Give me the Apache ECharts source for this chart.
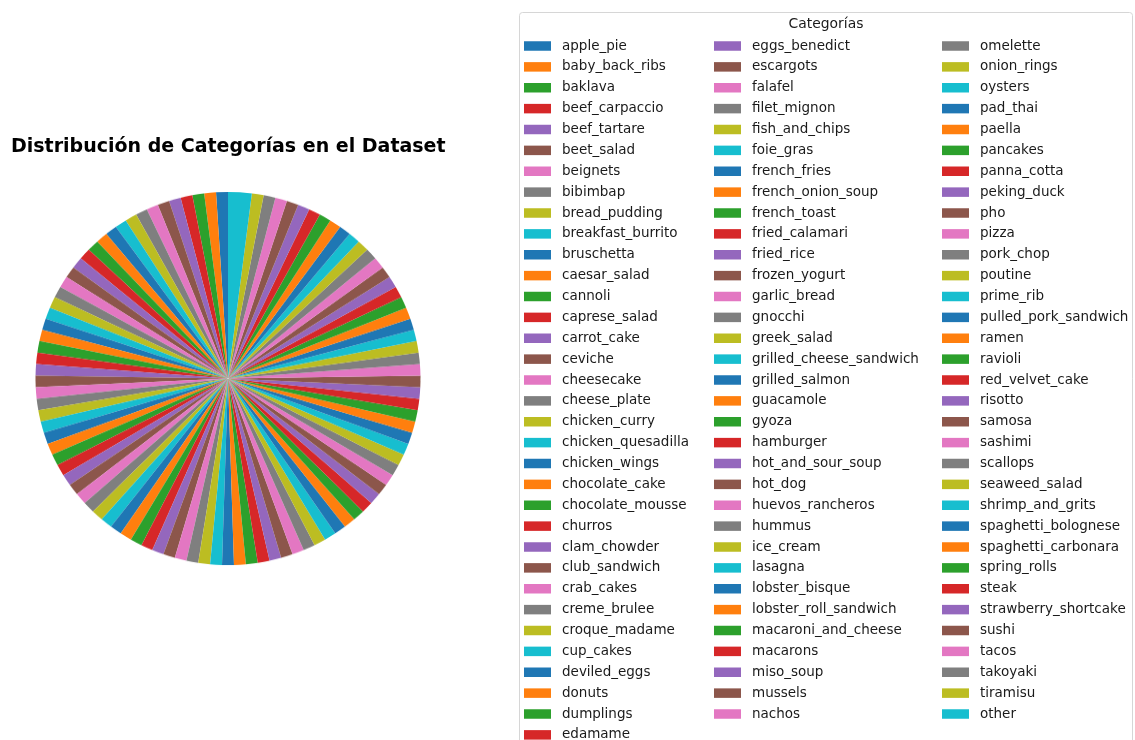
<!DOCTYPE html>
<html>
<head>
<meta charset="utf-8">
<title>Distribución de Categorías en el Dataset</title>
<script src="https://cdn.jsdelivr.net/npm/echarts@6/dist/echarts.min.js"></script>
<style>
  html, body { margin: 0; padding: 0; background: #ffffff; }
  #wrap { position: relative; width: 1135px; height: 740px; overflow: hidden; }
  #chart, #pie { position: absolute; left: 0; top: 0; width: 1135px; height: 740px; }
  /* the pie sits in its own layer, slightly flattened vertically */
  #pie { transform-origin: 228px 378.5px; transform: scaleY(0.969); }
</style>
</head>
<body>
<div id="wrap">
  <div id="pie"></div>
  <div id="chart"></div>
</div>
<script>
// Category names, in the order the slices are drawn (counter-clockwise from 12 o'clock)
const categories = [
  'apple_pie', 'baby_back_ribs', 'baklava', 'beef_carpaccio', 'beef_tartare',
  'beet_salad', 'beignets', 'bibimbap', 'bread_pudding', 'breakfast_burrito',
  'bruschetta', 'caesar_salad', 'cannoli', 'caprese_salad', 'carrot_cake',
  'ceviche', 'cheesecake', 'cheese_plate', 'chicken_curry', 'chicken_quesadilla',
  'chicken_wings', 'chocolate_cake', 'chocolate_mousse', 'churros', 'clam_chowder',
  'club_sandwich', 'crab_cakes', 'creme_brulee', 'croque_madame', 'cup_cakes',
  'deviled_eggs', 'donuts', 'dumplings', 'edamame',
  'eggs_benedict', 'escargots', 'falafel', 'filet_mignon', 'fish_and_chips',
  'foie_gras', 'french_fries', 'french_onion_soup', 'french_toast', 'fried_calamari',
  'fried_rice', 'frozen_yogurt', 'garlic_bread', 'gnocchi', 'greek_salad',
  'grilled_cheese_sandwich', 'grilled_salmon', 'guacamole', 'gyoza', 'hamburger',
  'hot_and_sour_soup', 'hot_dog', 'huevos_rancheros', 'hummus', 'ice_cream',
  'lasagna', 'lobster_bisque', 'lobster_roll_sandwich', 'macaroni_and_cheese', 'macarons',
  'miso_soup', 'mussels', 'nachos',
  'omelette', 'onion_rings', 'oysters', 'pad_thai', 'paella',
  'pancakes', 'panna_cotta', 'peking_duck', 'pho', 'pizza',
  'pork_chop', 'poutine', 'prime_rib', 'pulled_pork_sandwich', 'ramen',
  'ravioli', 'red_velvet_cake', 'risotto', 'samosa', 'sashimi',
  'scallops', 'seaweed_salad', 'shrimp_and_grits', 'spaghetti_bolognese', 'spaghetti_carbonara',
  'spring_rolls', 'steak', 'strawberry_shortcake', 'sushi', 'tacos',
  'takoyaki', 'tiramisu', 'other'
];

// Image count per category (same order as above)
const counts = [
  1000, 1000, 1000, 1000, 1000, 1000, 1000, 1000, 1000, 1000,
  1000, 1000, 1000, 1000, 1000, 1000, 1000, 1000, 1000, 1000,
  1000, 1000, 1000, 1000, 1000, 1000, 1000, 1000, 1000, 1000,
  1000, 1000, 1000, 1000,
  1000, 1000, 1000, 1000, 1000, 1000, 1000, 1000, 1000, 1000,
  1000, 1000, 1000, 1000, 1000, 1000, 1000, 1000, 1000, 1000,
  1000, 1000, 1000, 1000, 1000, 1000, 1000, 1000, 1000, 1000,
  1000, 1000, 1000,
  1000, 1000, 1000, 1000, 1000, 1000, 1000, 1000, 1000, 1000,
  1000, 1000, 1000, 1000, 1000, 1000, 1000, 1000, 1000, 1000,
  1000, 1000, 1000, 1000, 1000, 1000, 1000, 1000, 1000, 1000,
  1000, 1000, 2000
];

// Legend columns (number of entries in each)
const legendColumnSizes = [34, 33, 33];

const palette = ['#1f77b4', '#ff7f0e', '#2ca02c', '#d62728', '#9467bd',
                 '#8c564b', '#e377c2', '#7f7f7f', '#bcbd22', '#17becf'];

const FONT = 'DejaVu Sans';
const ROW = 20.875;
const colX = [524, 714, 942];

const pieData = categories.map((name, i) => ({ name: name, value: counts[i] }));

const pieSeries = {
  type: 'pie',
  name: 'categorias',
  center: [228, 378.5],
  radius: [0, 192.5],
  startAngle: 90,
  clockwise: false,
  avoidLabelOverlap: false,
  label: { show: false },
  labelLine: { show: false },
  itemStyle: { borderWidth: 0 },
  emphasis: { disabled: true },
  data: pieData
};

// Pie layer
const pieChart = echarts.init(document.getElementById('pie'), null, { renderer: 'canvas' });
pieChart.setOption({
  animation: false,
  color: palette,
  series: [pieSeries]
});

// Title + legend layer (legend is driven by a hidden copy of the same pie data)
const legends = [];
let start = 0;
legendColumnSizes.forEach((n, c) => {
  legends.push({
    orient: 'vertical',
    left: colX[c],
    top: 38,
    height: 1000,
    padding: 0,
    itemWidth: 27,
    itemHeight: 9.5,
    itemGap: ROW - 16,
    icon: 'rect',
    selectedMode: false,
    itemStyle: { opacity: 1 },
    data: categories.slice(start, start + n),
    textStyle: {
      fontFamily: FONT,
      fontSize: 13.5,
      lineHeight: 16,
      color: '#1a1a1a',
      padding: [0, 0, 0, 6]
    }
  });
  start += n;
});

const chart = echarts.init(document.getElementById('chart'), null, { renderer: 'canvas' });
chart.setOption({
  animation: false,
  color: palette,
  title: {
    text: 'Distribución de Categorías en el Dataset',
    left: 6,
    top: 133,
    textStyle: {
      fontFamily: FONT,
      fontSize: 19,
      fontWeight: 'bold',
      color: '#000000'
    }
  },
  legend: legends,
  graphic: [
    {
      type: 'rect',
      shape: { x: 519.5, y: 12.5, width: 613, height: 760, r: 3 },
      style: { fill: 'rgba(255,255,255,0.8)', stroke: '#d6d6d6', lineWidth: 1 },
      z: -1,
      silent: true
    },
    {
      type: 'text',
      x: 826,
      y: 24,
      style: {
        text: 'Categorías',
        fontFamily: FONT,
        fontSize: 13.9,
        fill: '#1a1a1a',
        align: 'center',
        verticalAlign: 'middle'
      },
      silent: true
    }
  ],
  series: [Object.assign({}, pieSeries, {
    radius: [0, 0],
    silent: true
  })]
});
</script>
</body>
</html>
